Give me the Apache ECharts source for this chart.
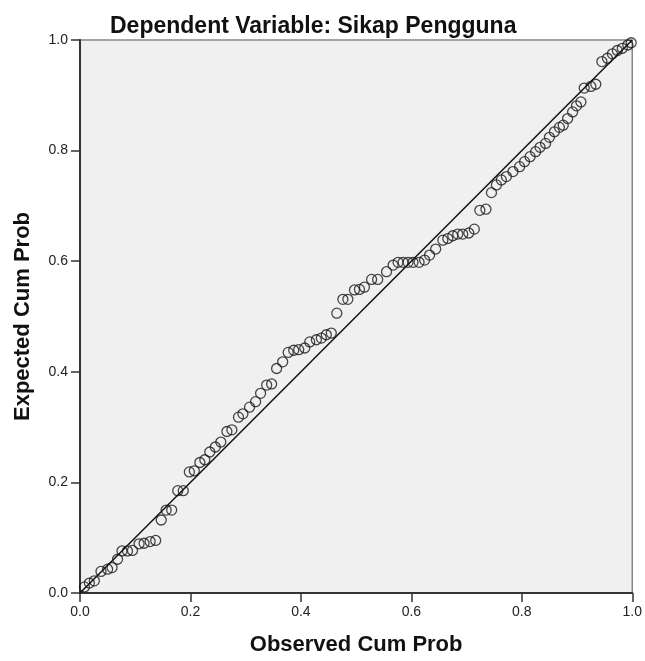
<!DOCTYPE html>
<html>
<head>
<meta charset="utf-8">
<script src="https://cdn.jsdelivr.net/npm/echarts@6/dist/echarts.min.js"></script>
<style>
html,body{margin:0;padding:0;background:#fff;}
#chart{width:645px;height:661px;}
</style>
</head>
<body>
<div id="chart"></div>
<script>
// Observed cumulative probability (x) and expected cumulative probability (y)
var observed = [0.008,0.017,0.026,0.038,0.050,0.058,0.068,0.076,0.086,0.095,0.107,0.116,0.127,0.137,0.147,0.156,0.166,0.177,0.187,0.198,0.207,0.217,
  0.226,0.235,0.245,0.255,0.266,0.275,0.287,0.295,0.307,0.318,0.327,0.338,0.347,0.356,0.367,0.377,0.387,0.396,0.407,0.416,0.428,0.437,0.446,0.455,0.465,
  0.476,0.485,0.497,0.506,0.515,0.528,0.539,0.555,0.567,0.576,0.585,0.594,0.603,0.614,0.624,0.633,0.644,0.657,0.666,0.675,0.684,0.693,0.704,0.714,
  0.724,0.735,0.745,0.754,0.763,0.772,0.784,0.796,0.805,0.815,0.825,0.833,0.843,0.850,0.859,0.868,0.875,0.883,0.892,0.899,0.907,0.913,0.925,0.934,
  0.945,0.955,0.964,0.973,0.982,0.992,0.998];
var expected = [0.011,0.018,0.022,0.039,0.043,0.046,0.061,0.076,0.076,0.077,0.089,0.090,0.093,0.095,0.132,0.150,0.150,0.185,0.185,0.219,0.221,0.236,
  0.241,0.255,0.264,0.273,0.292,0.295,0.318,0.324,0.336,0.346,0.361,0.376,0.378,0.406,0.418,0.435,0.439,0.440,0.443,0.454,0.458,0.461,0.467,0.470,0.506,
  0.531,0.531,0.548,0.549,0.553,0.567,0.567,0.581,0.593,0.598,0.598,0.598,0.598,0.598,0.602,0.611,0.622,0.638,0.641,0.646,0.649,0.649,0.651,0.658,
  0.692,0.694,0.724,0.738,0.747,0.753,0.762,0.771,0.780,0.789,0.798,0.806,0.813,0.824,0.834,0.842,0.846,0.858,0.870,0.881,0.888,0.913,0.916,0.920,
  0.961,0.967,0.975,0.981,0.985,0.991,0.995];
var ticks = [0, 0.2, 0.4, 0.6, 0.8, 1.0];
var refLine = [[0, 0], [1, 1]];

var points = observed.map(function (x, i) { return [x, expected[i]]; });
var font = '"Liberation Sans", Arial, sans-serif';

function axis(name, gap) {
  return {
    type: 'value', min: ticks[0], max: ticks[ticks.length - 1], interval: ticks[1] - ticks[0],
    name: name, nameLocation: 'middle', nameGap: gap, nameMoveOverlap: false,
    nameTextStyle: {fontFamily: font, fontWeight: 'bold', fontSize: 22, color: '#111'},
    axisLine: {show: true, lineStyle: {color: '#333', width: 2}},
    axisTick: {show: true, length: 9, lineStyle: {color: '#333', width: 1.5}},
    axisLabel: {fontFamily: font, fontSize: 14, color: '#222', margin: 12,
      formatter: function (v) { return v.toFixed(1); }},
    splitLine: {show: false}
  };
}

var chart = echarts.init(document.getElementById('chart'), null, {renderer: 'canvas'});
chart.setOption({
  animation: false,
  backgroundColor: '#fff',
  title: {
    text: 'Dependent Variable: Sikap Pengguna',
    left: 105, top: 10,
    textStyle: {fontFamily: font, fontWeight: 'bold', fontSize: 23, color: '#111'}
  },
  grid: {left: 80, right: 12, top: 40, bottom: 68, show: true,
    backgroundColor: '#f0f0f0', borderColor: '#888', borderWidth: 1.5},
  xAxis: axis('Observed Cum Prob', 41),
  yAxis: axis('Expected Cum Prob', 46),
  series: [
    {
      type: 'scatter', data: points, symbol: 'circle', symbolSize: 10,
      itemStyle: {color: 'rgba(0,0,0,0)', borderColor: '#1a1a1a', borderWidth: 1.3},
      z: 2
    },
    {
      type: 'line', data: refLine, symbol: 'none', silent: true,
      lineStyle: {color: '#111', width: 1.5}, z: 3
    }
  ]
});
</script>
</body>
</html>
